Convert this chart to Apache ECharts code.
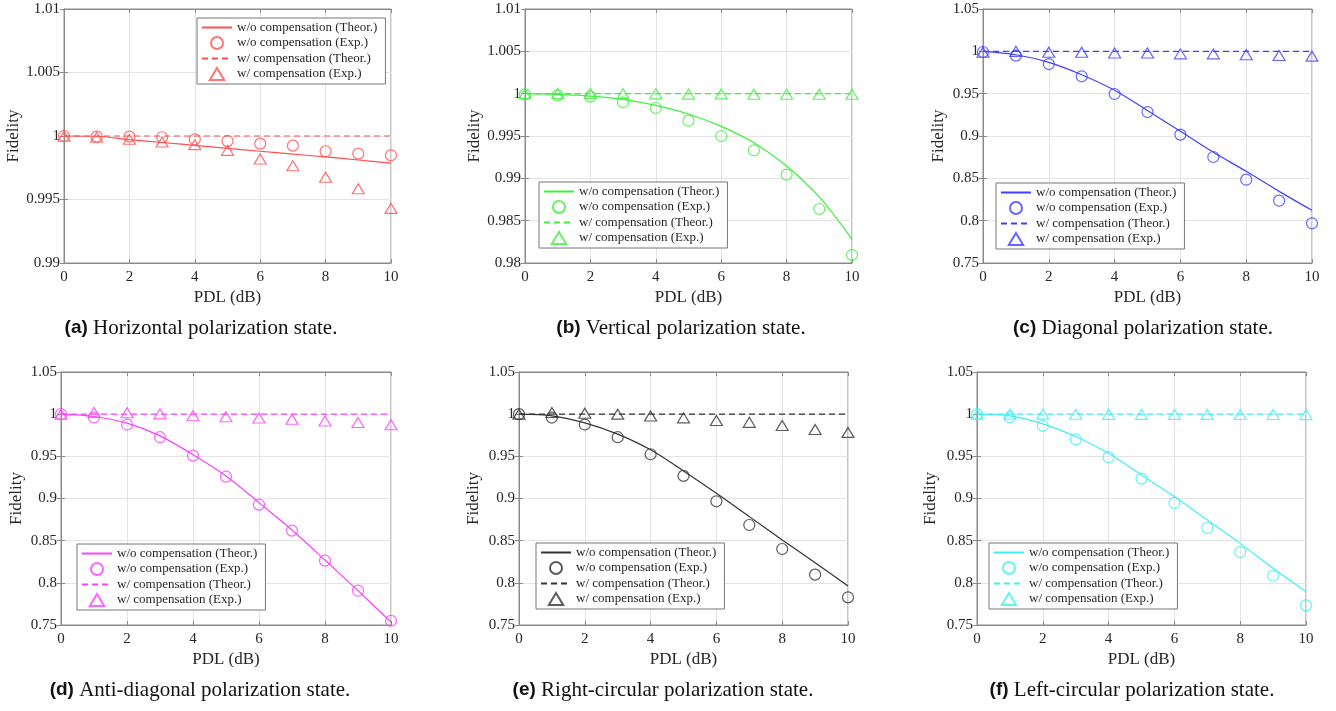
<!DOCTYPE html>
<html>
<head>
<meta charset="utf-8">
<title>Fidelity vs PDL</title>
<script src="https://cdn.jsdelivr.net/npm/echarts@6/dist/echarts.min.js"></script>
<style>
html, body { margin: 0; padding: 0; background: #fff; }
#chart { width: 1336px; height: 711px; }
</style>
</head>
<body>
<div id="chart"></div>
<script>
// PDL values (dB)
const pdl = [0, 1, 2, 3, 4, 5, 6, 7, 8, 9, 10]
const compTheor = [1, 1, 1, 1, 1, 1, 1, 1, 1, 1, 1]

// (a) horizontal
const hTheor = [1.0, 0.99998, 0.99971, 0.99949, 0.99926, 0.99903, 0.9988, 0.99858, 0.99835, 0.99811, 0.99787]
const hExpNoComp = [1.0, 0.99995, 0.99995, 0.9999, 0.99974, 0.9996, 0.9994, 0.99924, 0.9988, 0.99861, 0.99848]
const hExpComp = [0.99998, 0.9999, 0.99974, 0.99953, 0.99932, 0.99887, 0.99819, 0.99766, 0.99675, 0.99585, 0.9943]
// (b) vertical
const vTheor = [1.0, 0.99992, 0.99972, 0.99933, 0.99862, 0.9976, 0.99614, 0.99421, 0.99146, 0.9878, 0.9828]
const vExpNoComp = [0.99992, 0.9998, 0.99965, 0.99898, 0.99831, 0.99681, 0.995, 0.99331, 0.99043, 0.98638, 0.98094]
const vExpComp = [1.0, 1.00002, 1.00002, 1.0, 0.99998, 0.99995, 0.99997, 0.99994, 0.99994, 0.99994, 0.99994]
// (c) diagonal
const dTheor = [1.0, 0.996, 0.987, 0.9724, 0.954, 0.93, 0.9055, 0.8807, 0.8583, 0.8346, 0.8122]
const dExpNoComp = [0.9992, 0.9949, 0.985, 0.9705, 0.9496, 0.9283, 0.9016, 0.8752, 0.8484, 0.8236, 0.7969]
const dExpComp = [0.999, 1.0, 0.999, 0.999, 0.998, 0.998, 0.997, 0.997, 0.996, 0.995, 0.9943]
// (d) anti-diagonal
const adTheor = [1.0, 0.9972, 0.9893, 0.9743, 0.952, 0.9268, 0.8951, 0.8627, 0.827, 0.7907, 0.7535]
const adExpNoComp = [1.0, 0.996, 0.9877, 0.9727, 0.9509, 0.926, 0.8928, 0.8619, 0.8263, 0.7907, 0.755]
const adExpComp = [1.0, 1.002, 1.0016, 1.0004, 0.9982, 0.997, 0.9954, 0.9939, 0.9919, 0.9901, 0.9875]
// (e) right-circular
const rcTheor = [1.0, 0.998, 0.9897, 0.9763, 0.9577, 0.9327, 0.9062, 0.8785, 0.8508, 0.8239, 0.7962]
const rcExpNoComp = [1.0, 0.996, 0.9877, 0.9727, 0.9525, 0.9268, 0.8967, 0.8686, 0.8401, 0.8097, 0.7828]
const rcExpComp = [1.0, 1.002, 1.001, 1.0, 0.9978, 0.9956, 0.9925, 0.9903, 0.9865, 0.9818, 0.9784]
// (f) left-circular
const lcTheor = [1.0, 0.998, 0.9885, 0.9735, 0.9537, 0.928, 0.9023, 0.8745, 0.8468, 0.8172, 0.7895]
const lcExpNoComp = [1.0, 0.9964, 0.9861, 0.97, 0.949, 0.9236, 0.8947, 0.865, 0.8365, 0.8084, 0.7733]
const lcExpComp = [1.0, 1.0, 1.0, 0.9999, 0.9998, 0.9998, 0.9997, 0.9997, 0.9996, 0.9996, 0.9995]

const legendNames = ['w/o compensation (Theor.)', 'w/o compensation (Exp.)', 'w/ compensation (Theor.)', 'w/ compensation (Exp.)']
const captions = ['Horizontal polarization state.', 'Vertical polarization state.', 'Diagonal polarization state.',
  'Anti-diagonal polarization state.', 'Right-circular polarization state.', 'Left-circular polarization state.']
const tags = ['(a)', '(b)', '(c)', '(d)', '(e)', '(f)']

const panels = [
  { theor: hTheor, expNo: hExpNoComp, expW: hExpComp, color: '#ff5050',
    grid: { left: 64, top: 9, width: 327, height: 254 }, min: 0.99, max: 1.01, interval: 0.005,
    nameGap: 42, legend: { left: 197, top: 18 }, cap: [201, 328] },
  { theor: vTheor, expNo: vExpNoComp, expW: vExpComp, color: '#3cf03c',
    grid: { left: 525, top: 9, width: 327, height: 254 }, min: 0.98, max: 1.01, interval: 0.005,
    nameGap: 42, legend: { left: 539, top: 182 }, cap: [681, 328] },
  { theor: dTheor, expNo: dExpNoComp, expW: dExpComp, color: '#4040ff',
    grid: { left: 983, top: 9, width: 329, height: 254 }, min: 0.75, max: 1.05, interval: 0.05,
    nameGap: 36, legend: { left: 996, top: 183 }, cap: [1143, 328] },
  { theor: adTheor, expNo: adExpNoComp, expW: adExpComp, color: '#ff40ff',
    grid: { left: 61, top: 372, width: 330, height: 253 }, min: 0.75, max: 1.05, interval: 0.05,
    nameGap: 36, legend: { left: 77, top: 544 }, cap: [200, 690] },
  { theor: rcTheor, expNo: rcExpNoComp, expW: rcExpComp, color: '#333333',
    grid: { left: 519, top: 372, width: 329, height: 253 }, min: 0.75, max: 1.05, interval: 0.05,
    nameGap: 37, legend: { left: 536, top: 543 }, cap: [663, 690] },
  { theor: lcTheor, expNo: lcExpNoComp, expW: lcExpComp, color: '#40f0f0',
    grid: { left: 977, top: 372, width: 329, height: 253 }, min: 0.75, max: 1.05, interval: 0.05,
    nameGap: 38, legend: { left: 989, top: 543 }, cap: [1132, 690] }
]

const serif = 'Liberation Serif'
const frame = '#8a8a8a'
const textCol = '#262626'
const triIcon = 'path://M6,0 L12,10 L0,10 Z'

const pairs = (ys) => pdl.map((x, j) => [x, ys[j]])

const grids = [], xAxes = [], yAxes = [], series = [], legends = [], texts = []

panels.forEach((p, i) => {
  grids.push(Object.assign({ show: true, borderColor: frame, borderWidth: 1, outerBoundsMode: 'none' }, p.grid))
  const tick = { show: true, inside: true, length: 4, lineStyle: { color: frame } }
  xAxes.push({
    type: 'value', gridIndex: i, min: 0, max: 10, interval: 2, position: 'bottom',
    name: 'PDL (dB)', nameLocation: 'middle', nameGap: 26,
    nameTextStyle: { fontFamily: serif, fontSize: 17, color: textCol },
    axisLine: { show: true, lineStyle: { color: frame } }, axisTick: tick,
    axisLabel: { fontFamily: serif, fontSize: 15, color: textCol, margin: 7 },
    splitLine: { show: true, lineStyle: { color: '#e4e4e4' } }
  })
  xAxes.push({
    type: 'value', gridIndex: i, min: 0, max: 10, interval: 2, position: 'top',
    axisLine: { show: true, lineStyle: { color: frame } }, axisTick: tick,
    axisLabel: { show: false }, splitLine: { show: false }
  })
  yAxes.push({
    type: 'value', gridIndex: i, min: p.min, max: p.max, interval: p.interval, position: 'left',
    name: 'Fidelity', nameLocation: 'middle', nameGap: p.nameGap, nameRotate: 90,
    nameTextStyle: { fontFamily: serif, fontSize: 17, color: textCol },
    axisLine: { show: true, lineStyle: { color: frame } }, axisTick: tick,
    axisLabel: { fontFamily: serif, fontSize: 15, color: textCol, margin: 4 },
    splitLine: { show: true, lineStyle: { color: '#e4e4e4' } }
  })
  yAxes.push({
    type: 'value', gridIndex: i, min: p.min, max: p.max, interval: p.interval, position: 'right',
    axisLine: { show: true, lineStyle: { color: frame } }, axisTick: tick,
    axisLabel: { show: false }, splitLine: { show: false }
  })

  const names = legendNames.map(n => i + ':' + n)
  const ax = { xAxisIndex: 2 * i, yAxisIndex: 2 * i }
  series.push(Object.assign({
    name: names[0], type: 'line', data: pairs(p.theor), symbol: 'none', smooth: 0.3,
    lineStyle: { color: p.color, width: 1.2 }, itemStyle: { color: p.color }, z: 2
  }, ax))
  series.push(Object.assign({
    name: names[1], type: 'scatter', data: pairs(p.expNo), symbol: 'circle', symbolSize: 11,
    itemStyle: { color: 'rgba(0,0,0,0)', borderColor: p.color, borderWidth: 1.2 }, z: 3
  }, ax))
  series.push(Object.assign({
    name: names[2], type: 'line', data: pairs(compTheor), symbol: 'none',
    lineStyle: { color: p.color, width: 1.2, type: [6, 4] }, itemStyle: { color: p.color }, z: 2
  }, ax))
  series.push(Object.assign({
    name: names[3], type: 'scatter', data: pairs(p.expW), symbol: 'triangle', symbolSize: [12, 10],
    itemStyle: { color: 'rgba(0,0,0,0)', borderColor: p.color, borderWidth: 1.2 }, z: 3
  }, ax))

  legends.push({
    data: [
      { name: names[0], itemStyle: { opacity: 0 } },
      { name: names[1] },
      { name: names[2], itemStyle: { opacity: 0 } },
      { name: names[3], icon: triIcon }
    ],
    left: p.legend.left, top: p.legend.top, orient: 'vertical', selectedMode: false,
    formatter: (n) => n.slice(n.indexOf(':') + 1),
    backgroundColor: '#fff', borderColor: '#777', borderWidth: 1, padding: [3, 8, 3, 4],
    itemGap: 2, itemWidth: 30, itemHeight: 12, symbolKeepAspect: true,
    textStyle: { fontFamily: serif, fontSize: 13, color: textCol }
  })

  texts.push({
    type: 'text', x: p.cap[0], y: p.cap[1],
    style: {
      text: '{b|' + tags[i] + '} ' + captions[i],
      textAlign: 'center', textVerticalAlign: 'middle',
      fontFamily: serif, fontSize: 21, fill: '#111',
      rich: { b: { fontFamily: 'Liberation Sans', fontWeight: 'bold', fontSize: 19, fill: '#111' } }
    }
  })
})

const chart = echarts.init(document.getElementById('chart'))
chart.setOption({
  animation: false,
  backgroundColor: '#fff',
  grid: grids,
  xAxis: xAxes,
  yAxis: yAxes,
  legend: legends,
  series: series,
  graphic: texts
})
</script>
</body>
</html>
